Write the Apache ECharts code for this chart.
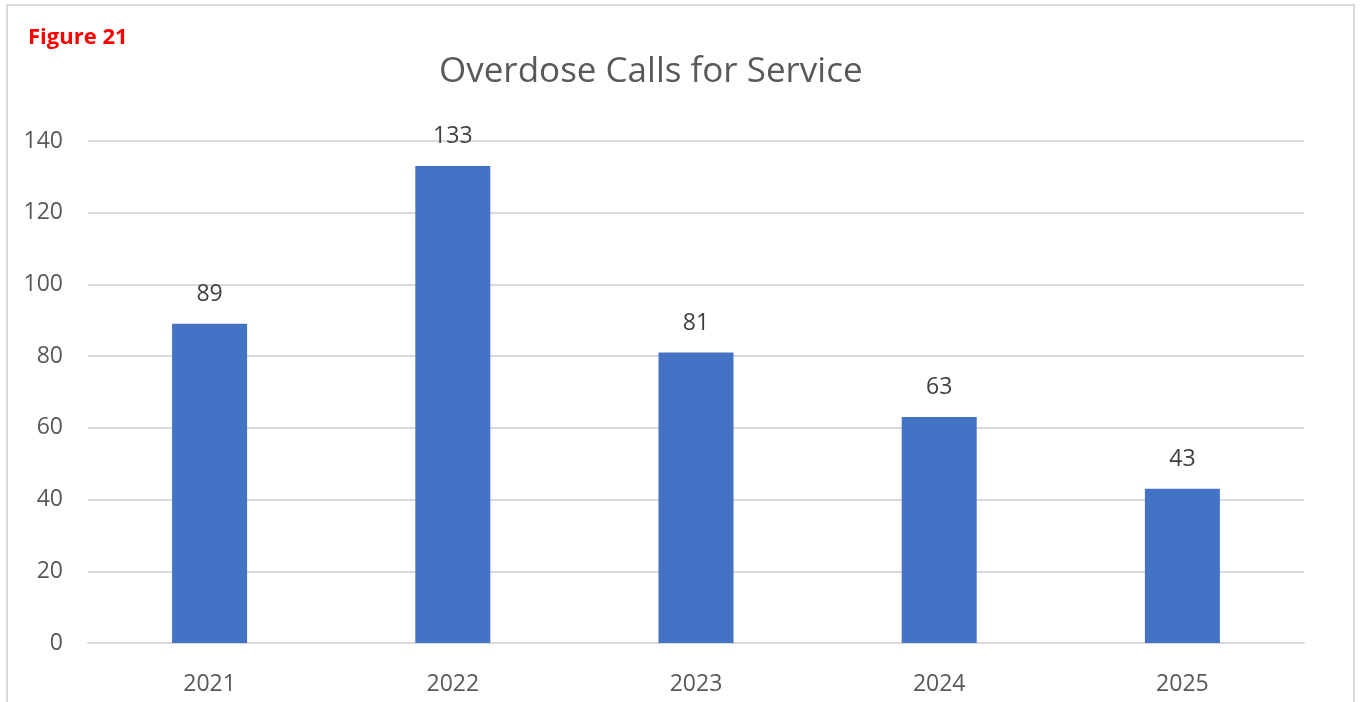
<!DOCTYPE html>
<html>
<head>
<meta charset="utf-8">
<script src="https://cdn.jsdelivr.net/npm/echarts@6/dist/echarts.min.js"></script>
<style>
  html, body { margin: 0; padding: 0; background: #fff; }
  #chart { width: 1360px; height: 702px; }
</style>
</head>
<body>
<div id="chart"></div>
<script>
// data
const years = ['2021', '2022', '2023', '2024', '2025'];
const calls = [89, 133, 81, 63, 43];
const yTicks = [0, 20, 40, 60, 80, 100, 120, 140];

const myChart = echarts.init(document.getElementById('chart'));
myChart.setOption({
  animation: false,
  textStyle: { fontFamily: 'Open Sans' },
  graphic: [
    {
      type: 'rect',
      shape: { x: 7, y: 5, width: 1347, height: 720 },
      style: { fill: 'none', stroke: '#d9d9d9', lineWidth: 2 }
    },
    {
      type: 'text',
      left: 28,
      top: 27,
      style: { text: 'Figure 21', fill: '#ff0000', font: 'bold 22px "Open Sans"' }
    }
  ],
  title: {
    text: 'Overdose Calls for Service',
    left: 434,
    top: 50,
    textStyle: { fontSize: 35, fontWeight: 'normal', color: '#595959', fontFamily: 'Open Sans' }
  },
  grid: { left: 88, right: 56, top: 141, bottom: 59 },
  xAxis: {
    type: 'category',
    data: years,
    axisLine: { show: true, lineStyle: { color: '#d9d9d9', width: 2 } },
    axisTick: { show: false },
    axisLabel: { color: '#595959', fontSize: 23, margin: 30 }
  },
  yAxis: {
    type: 'value',
    min: yTicks[0],
    max: yTicks[yTicks.length - 1],
    interval: 20,
    axisLine: { show: false },
    axisTick: { show: false },
    axisLabel: { color: '#595959', fontSize: 23, margin: 25 },
    splitLine: { lineStyle: { color: '#d9d9d9', width: 2 } }
  },
  series: [
    {
      type: 'bar',
      data: calls,
      barWidth: 75,
      itemStyle: { color: '#4472c4' },
      label: {
        show: true,
        position: 'top',
        distance: 18,
        color: '#404040',
        fontSize: 23
      }
    }
  ]
});
</script>
</body>
</html>
